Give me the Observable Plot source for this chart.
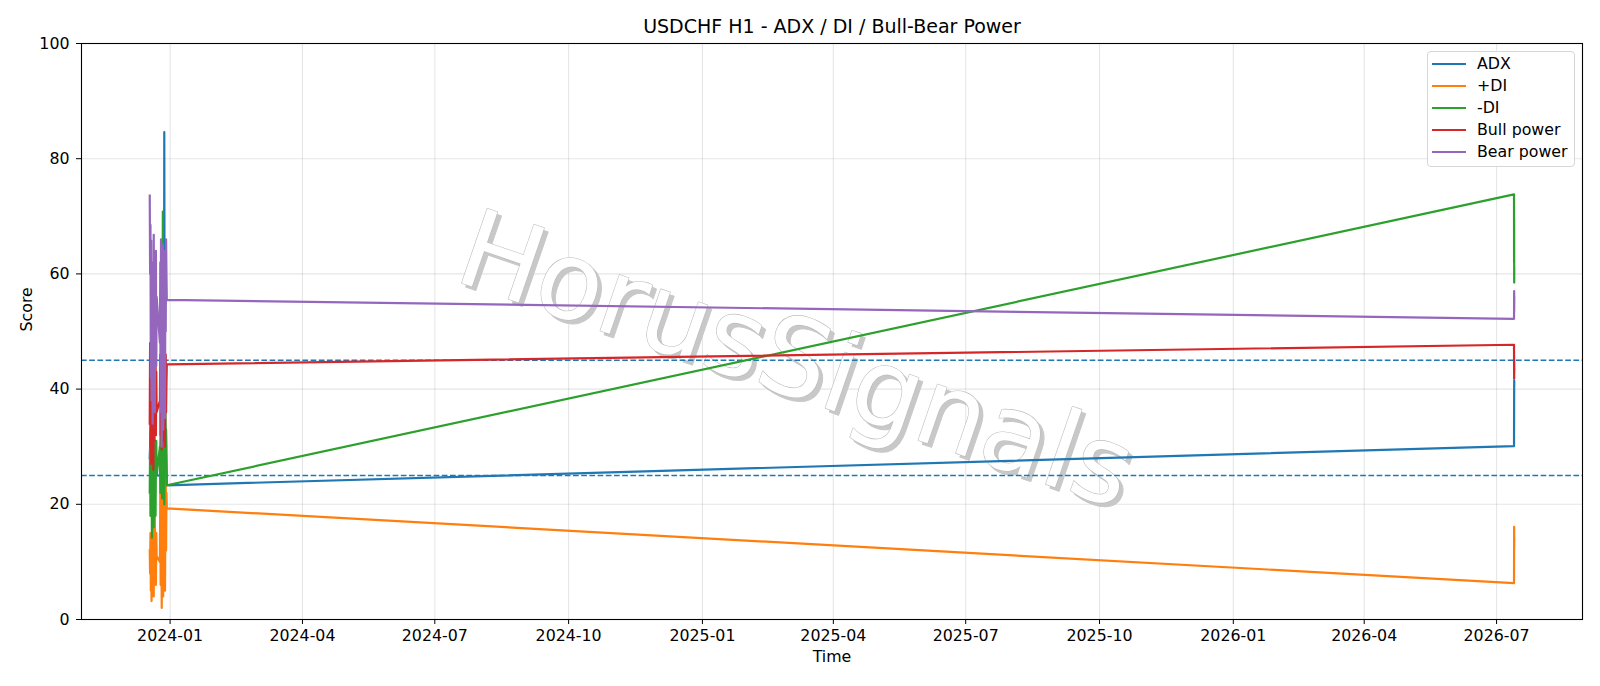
<!DOCTYPE html>
<html>
<head>
<meta charset="utf-8">
<script src="https://cdn.jsdelivr.net/npm/d3@7"></script>
<script src="https://cdn.jsdelivr.net/npm/@observablehq/plot@0.6"></script>
<style>
  body { margin: 0; background: #fff; font-family: "DejaVu Sans", sans-serif; }
  #wrap { position: relative; width: 1600px; height: 686px; }
  #legend { position: absolute; left: 1427px; top: 51px; width: 148px; height: 116px;
            border: 1px solid #d6d6d6; border-radius: 4px; background: rgba(255,255,255,0.85);
            box-sizing: border-box; }
  .row { position: absolute; left: 0; height: 20px; width: 100%; }
  .row .sw { position: absolute; left: 4px; top: 9px; width: 34px; height: 0; border-top: 2.2px solid; }
  .row .lb { position: absolute; left: 49px; top: 0px; font-size: 15.8px; line-height: 19px; color: #000; white-space: nowrap; }
</style>
</head>
<body>
<div id="wrap"><div id="legend"></div></div>
<script>
// ---- data ----
const title = "USDCHF H1 - ADX / DI / Bull-Bear Power";
const seriesNames = ["ADX", "+DI", "-DI", "Bull power", "Bear power"];
const seriesColors = ["#1f77b4", "#ff7f0e", "#2ca02c", "#d62728", "#9467bd"];

const times = [
  "2023-12-18T00:00Z","2023-12-18T06:00Z","2023-12-18T12:00Z","2023-12-18T18:00Z",
  "2023-12-19T00:00Z","2023-12-19T06:00Z","2023-12-19T12:00Z","2023-12-19T18:00Z",
  "2023-12-20T00:00Z","2023-12-20T06:00Z","2023-12-20T12:00Z","2023-12-20T18:00Z",
  "2023-12-21T00:00Z","2023-12-21T06:00Z","2023-12-21T12:00Z","2023-12-21T18:00Z",
  "2023-12-22T00:00Z","2023-12-22T06:00Z","2023-12-22T12:00Z","2023-12-22T18:00Z",
  "2023-12-25T00:00Z","2023-12-25T06:00Z","2023-12-25T12:00Z","2023-12-25T18:00Z",
  "2023-12-26T00:00Z","2023-12-26T06:00Z","2023-12-26T12:00Z","2023-12-26T18:00Z",
  "2023-12-27T00:00Z","2023-12-27T06:00Z","2023-12-27T12:00Z","2023-12-27T18:00Z",
  "2023-12-28T00:00Z","2023-12-28T06:00Z","2023-12-28T12:00Z","2023-12-28T18:00Z",
  "2023-12-29T00:00Z","2023-12-29T06:00Z","2023-12-29T12:00Z","2023-12-29T18:00Z",
  "2026-07-13T00:00Z","2026-07-13T01:00Z","2026-07-13T02:00Z","2026-07-13T03:00Z","2026-07-13T04:00Z"
];

const adx = [
  28, 30, 32, 33, 31, 29, 27, 25, 24, 23, 22, 24, 26, 28, 30, 31, 30, 28, 26, 25,
  25, 28, 30, 32, 34, 33, 31, 30, 29, 27, 26, 28, 84.6, 40, 35, 32, 30, 28, 26, 23.3,
  30.1, 35, 39, 41.5, 40.8
];
const plusDI = [
  12, 8, 15, 5, 10, 3.2, 14, 9, 18, 6, 12, 4, 16, 10, 19, 8, 13, 6, 15, 11,
  10, 22, 6, 27, 12, 2, 18, 8, 25, 4, 15, 29, 9, 20, 5, 16, 26, 12, 22, 19.3,
  6.3, 11, 16.1, 12.5, 14
];
const minusDI = [
  22, 30, 18, 34, 20, 28, 14.2, 26, 32, 19, 29, 16, 33, 24, 21, 30, 18, 27, 31, 25,
  30, 22, 36, 25, 39, 28, 21, 34, 70.8, 37, 24, 32, 20, 35, 29, 38, 26, 33, 30, 23.3,
  73.8, 62, 69.6, 58.5, 61
];
const bullPower = [
  34, 48, 30, 44, 27, 40, 33, 46, 29, 42, 26, 38, 45, 31, 40, 35, 47, 32, 43, 36,
  38, 46, 32, 49.8, 35, 29.5, 44, 36, 48, 31, 42, 47, 34, 45, 30, 40, 46, 36, 41, 44.3,
  47.7, 44, 41.8, 45, 43
];
const bearPower = [
  73.6, 60, 68.5, 42, 65.8, 38, 62, 50, 34, 58, 45, 66.8, 40, 55, 36, 60, 48, 64, 44, 56,
  48, 62, 36, 66, 42, 30, 60, 45, 65, 33, 55, 64, 40, 58, 35, 62, 50, 66, 60, 55.5,
  52.2, 55, 57, 53.5, 56
];
const refLevels = [25, 45];
const yTicks = [0, 20, 40, 60, 80, 100];
const xTickLabels = ["2024-01","2024-04","2024-07","2024-10","2025-01","2025-04","2025-07","2025-10","2026-01","2026-04","2026-07"];
const xDomain = ["2023-11-01T02:00Z", "2026-08-29T02:00Z"];
const watermark = "HorusSignals";

// ---- build ----
const seriesValues = [adx, plusDI, minusDI, bullPower, bearPower];
const parsedTimes = times.map(t => new Date(t));
const tables = seriesValues.map((vals, s) =>
  vals.map((v, i) => ({time: parsedTimes[i], value: v, series: seriesNames[s]})));
const xTicks = xTickLabels.map(s => new Date(s + "-01T00:00Z"));
const font = "DejaVu Sans";
const fs = 15.8;

const chart = Plot.plot({
  width: 1600, height: 686,
  marginLeft: 81, marginRight: 18, marginTop: 43, marginBottom: 67,
  style: {fontFamily: font, fontSize: fs + "px", color: "#000", background: "#fff"},
  x: {type: "utc", domain: xDomain.map(d => new Date(d))},
  y: {domain: [0, 100]},
  marks: [
    Plot.gridX(xTicks, {stroke: "#b0b0b0", strokeOpacity: 0.32, strokeWidth: 1.1}),
    Plot.gridY(yTicks, {stroke: "#b0b0b0", strokeOpacity: 0.32, strokeWidth: 1.1}),
    Plot.text([watermark], {frameAnchor: "middle", dx: -32, dy: 34, rotate: 19, fontSize: 108,
      fill: "#c8c8c8", stroke: "#c8c8c8", strokeWidth: 1, fontFamily: font}),
    Plot.text([watermark], {frameAnchor: "middle", dx: -36, dy: 30, rotate: 19, fontSize: 108,
      fill: "#ffffff", stroke: "#bcbcbc", strokeWidth: 1.2, fontFamily: font}),
    Plot.ruleY(refLevels, {stroke: "#1f77b4", strokeWidth: 1.5, strokeDasharray: "5.7,2.5"}),
    ...tables.map((tab, s) => Plot.line(tab, {x: "time", y: "value", stroke: seriesColors[s], strokeWidth: 2.2,
      strokeLinejoin: "round", strokeLinecap: "square"})),
    Plot.frame({stroke: "#000", strokeWidth: 1.1}),
    Plot.axisX({ticks: xTicks, tickFormat: d3.utcFormat("%Y-%m"), tickSize: 5, tickPadding: 5,
      label: null, fontSize: fs}),
    Plot.axisY({ticks: yTicks, tickSize: 5, tickPadding: 7, label: null, fontSize: fs}),
    Plot.text(["Time"], {frameAnchor: "bottom", dy: 37, lineAnchor: "middle", fontSize: fs, fontFamily: font}),
    Plot.text(["Score"], {frameAnchor: "left", dx: -55, rotate: -90, lineAnchor: "middle", fontSize: fs, fontFamily: font}),
    Plot.text([title], {frameAnchor: "top", dy: -17, lineAnchor: "middle", fontSize: 19, fontFamily: font})
  ]
});
const wrap = document.getElementById("wrap");
wrap.insertBefore(chart, wrap.firstChild);

const legend = document.getElementById("legend");
const rowTops = [2.3, 24.2, 46.1, 68, 89.9];
seriesNames.forEach((name, i) => {
  const row = document.createElement("div");
  row.className = "row";
  row.style.top = rowTops[i] + "px";
  const sw = document.createElement("div");
  sw.className = "sw";
  sw.style.borderTopColor = seriesColors[i];
  const lb = document.createElement("div");
  lb.className = "lb";
  lb.textContent = name;
  row.appendChild(sw); row.appendChild(lb);
  legend.appendChild(row);
});
</script>
</body>
</html>
